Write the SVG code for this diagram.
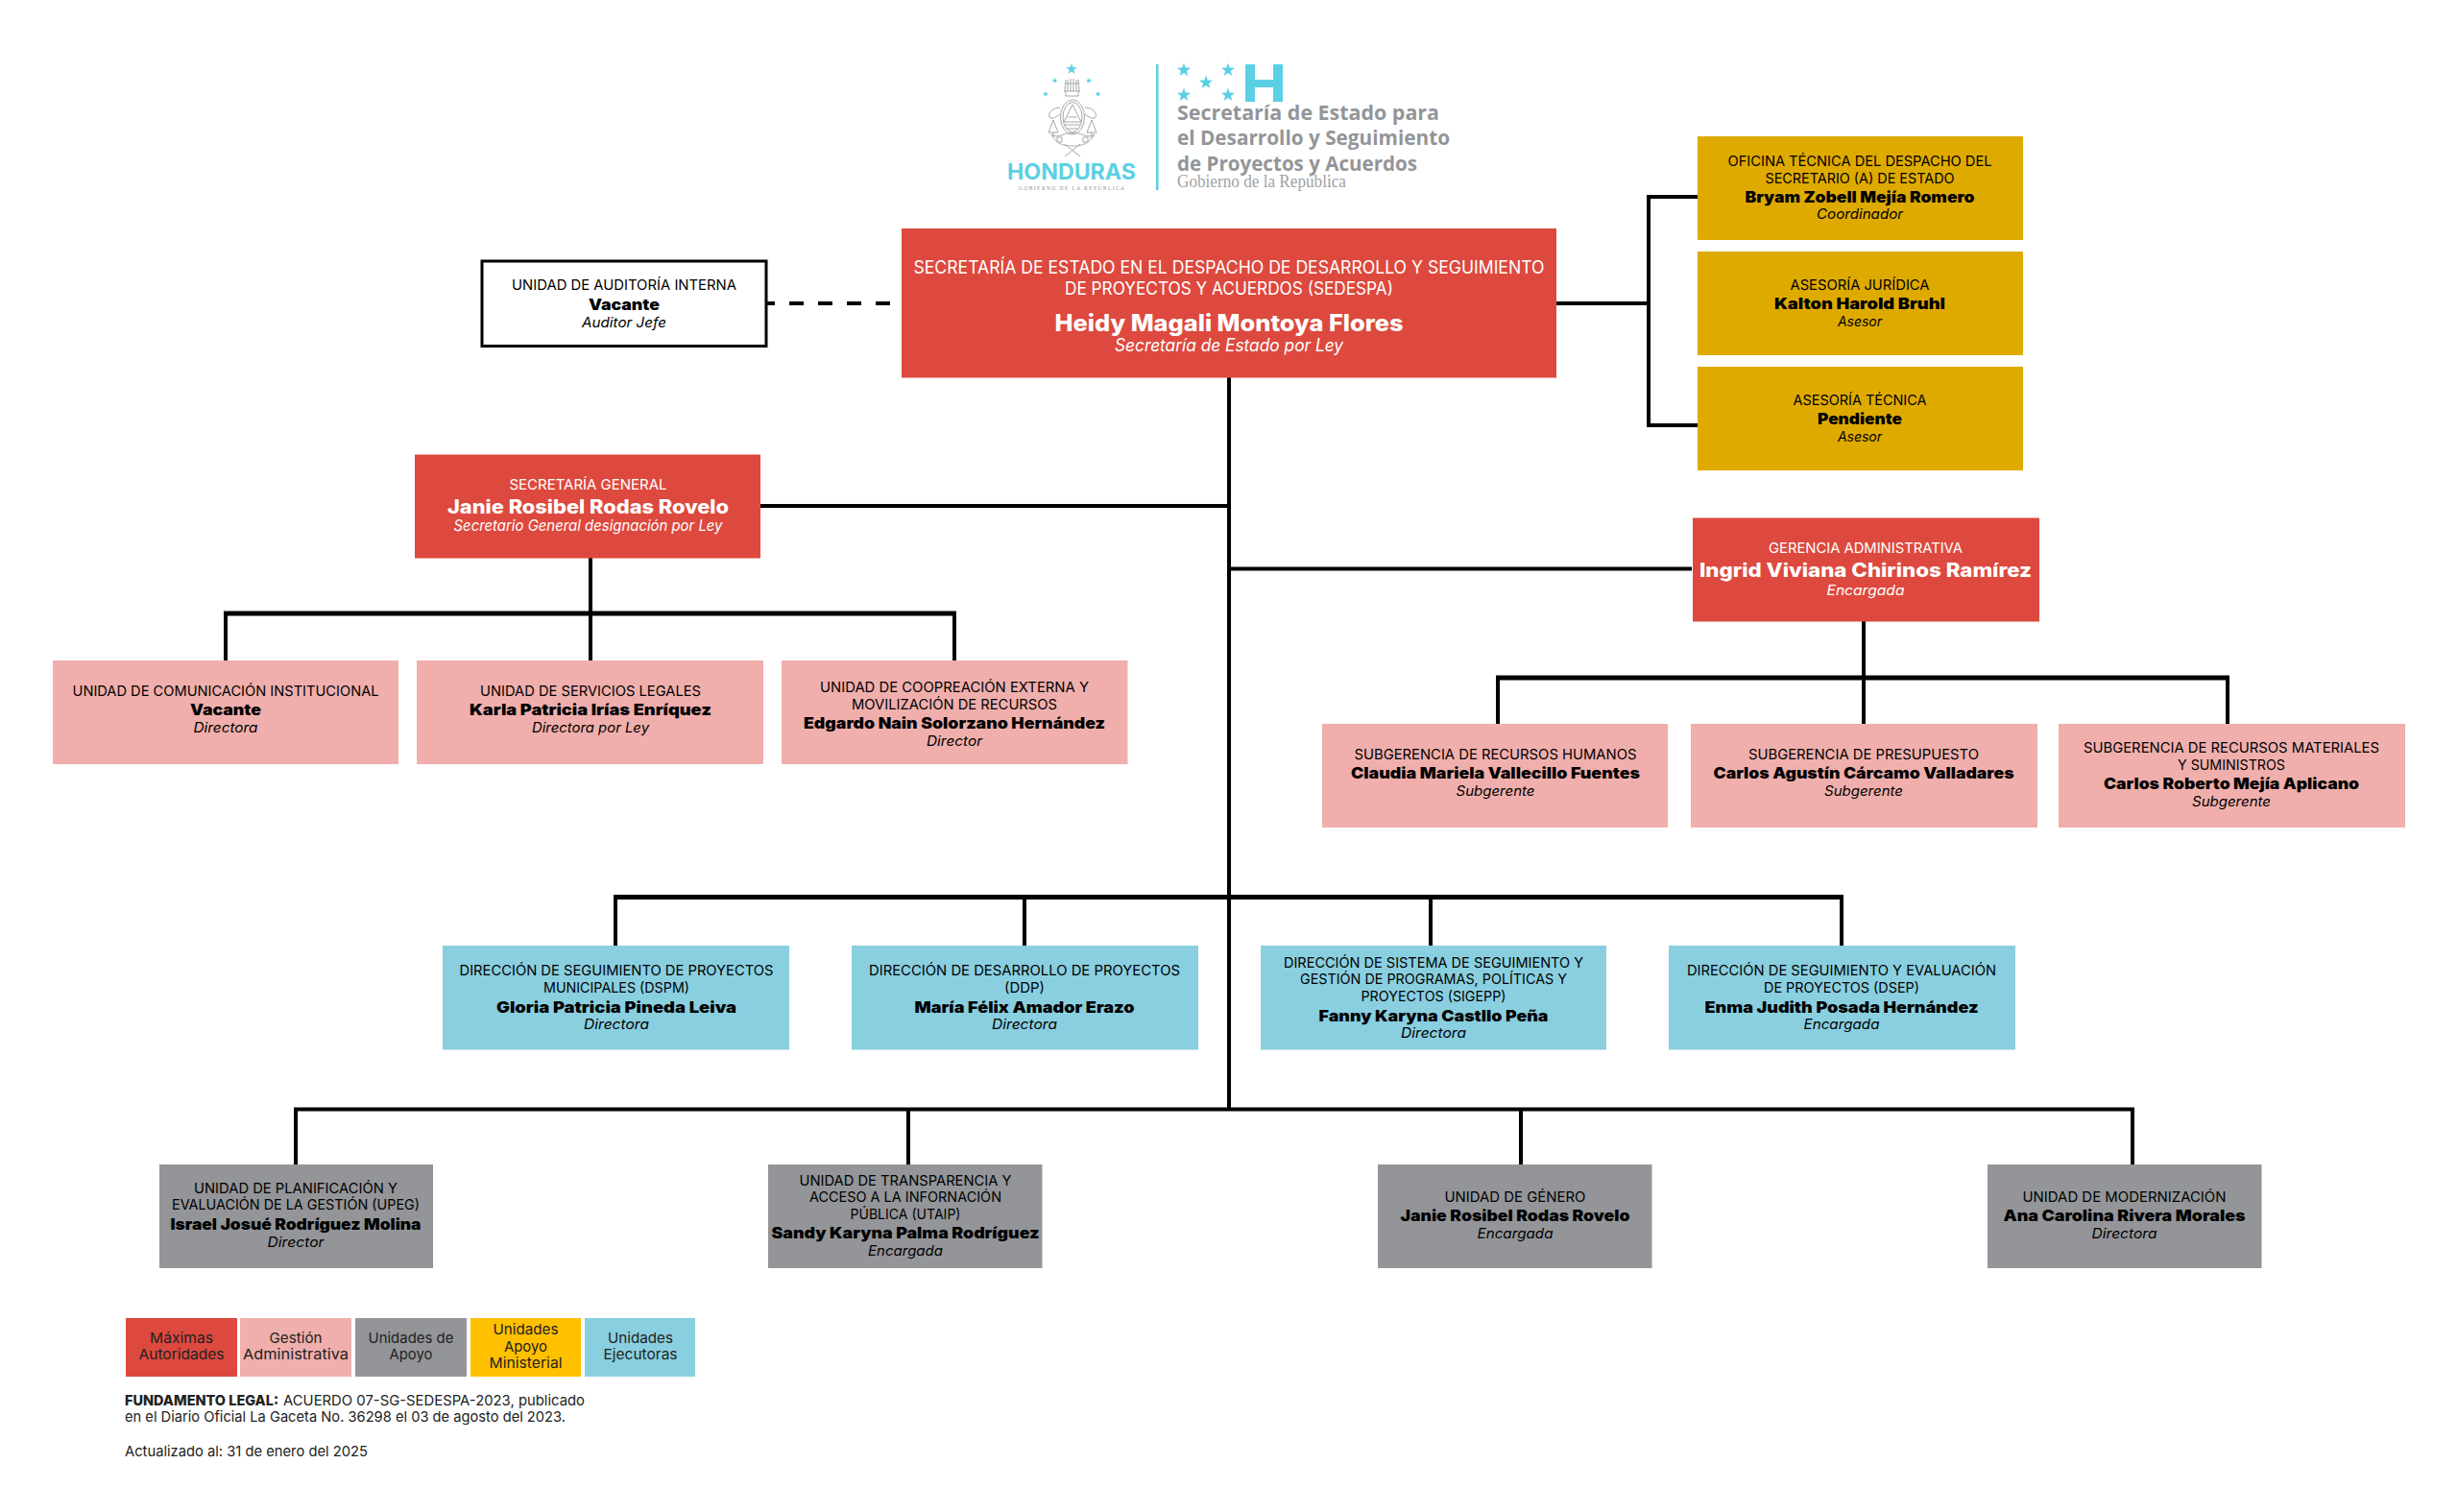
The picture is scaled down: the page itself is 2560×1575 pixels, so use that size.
<svg xmlns="http://www.w3.org/2000/svg" width="2560" height="1575" viewBox="0 0 2560 1575">
<style>
text{font-family:Inter,"Liberation Sans",sans-serif;text-anchor:middle;fill:#000;transform:translateY(1.3px)}
.l{font-size:14.5px}
.n{font-size:16px;font-weight:900;fill:#000}
.r{font-size:14.5px;font-style:italic}
text.w{fill:#fff}
.lb{font-size:18px}.nb{font-size:24px;font-weight:800}.rb{font-size:18px;font-style:italic}
.n2{font-size:20px;font-weight:800}.r2{font-size:15.5px;font-style:italic}.l2{font-size:14.5px}
.red{fill:#dd493e}.pink{fill:#f0afac}.gray{fill:#939598}.gold{fill:#dfaa00}.blue{fill:#89cfe0}.yel{fill:#ffc000}
.leg{font-size:15px;fill:#222}
.ft{font-size:15px;text-anchor:start;fill:#222}
.lo{font-family:"Open Sans","Liberation Sans",sans-serif;font-size:21.5px;font-weight:700;fill:#939598;text-anchor:start}
.cn{stroke:#000;stroke-width:4;fill:none}
.cb{stroke:#000;stroke-width:5;fill:none}
.star{fill:#5bd0e5}
.crest{fill:none;stroke:#a5a7aa;stroke-width:1}
</style>
<defs>
<polygon id="st" points="0,-1 .235,-.324 .951,-.309 .38,.124 .588,.809 0,.4 -.588,.809 -.38,.124 -.951,-.309 -.235,-.324"/>
</defs>
<rect width="2560" height="1575" fill="#fff"/>
<g id="logo">
<g class="star">
<use href="#st" transform="translate(1116 72) scale(6)"/>
<use href="#st" transform="translate(1098.6 84) scale(3.2)"/>
<use href="#st" transform="translate(1134 84) scale(3.2)"/>
<use href="#st" transform="translate(1089 98) scale(3.2)"/>
<use href="#st" transform="translate(1143.6 98) scale(3.2)"/>
<use href="#st" transform="translate(1233 73) scale(7.5)"/>
<use href="#st" transform="translate(1279 73) scale(7.5)"/>
<use href="#st" transform="translate(1256 86) scale(7.5)"/>
<use href="#st" transform="translate(1233 99) scale(7.5)"/>
<use href="#st" transform="translate(1279 99) scale(7.5)"/>
</g>
<g class="crest">
<path d="M1109 95 1110 83M1112 95V83M1115 95V82M1118 95V82M1121 95V83M1124 95 1123 83M1109 87H1124M1108 95H1125M1110 95V100H1123V95"/>
<ellipse cx="1117" cy="122" rx="12.5" ry="18"/>
<ellipse cx="1117" cy="122" rx="10" ry="15.5"/>
<path d="M1117 109 1108 127H1126ZM1109 130H1125M1111 134H1123M1112 122H1122"/>
<path d="M1104 112C1096 112 1091 118 1093 122 1095 125 1100 122 1104 119M1130 112C1138 112 1143 118 1141 122 1139 125 1134 122 1130 119"/>
<path d="M1097 125 1092 138H1102ZM1137 125 1142 138H1132ZM1097 138V143M1137 138V143"/>
<path d="M1095 140C1101 152 1111 152 1117 152 1123 152 1133 152 1140 140 1133 146 1124 136 1117 139 1110 136 1102 146 1095 140Z"/>
<path d="M1109 150 1125 163M1125 150 1109 163M1101 143h5v5h-5zM1128 143h5v5h-5z"/>
</g>
<text x="1116" y="186" textLength="134" lengthAdjust="spacingAndGlyphs" style="font-size:22.5px;font-weight:700;fill:#5bd0e5">HONDURAS</text>
<text x="1116" y="197" textLength="110" lengthAdjust="spacing" style="font-family:'Liberation Serif',serif;font-size:5.5px;fill:#939598">GOBIERNO DE LA REPÚBLICA</text>
<rect x="1204" y="67" width="2.5" height="131" fill="#5bd0e5"/>
<path d="M1297 67h10v16h19V67h10v39h-10V91h-19v15h-10z" fill="#5bd0e5"/>
<text class="lo" x="1226" y="124" textLength="273" lengthAdjust="spacingAndGlyphs">Secretaría de Estado para</text>
<text class="lo" x="1226" y="150" textLength="284" lengthAdjust="spacingAndGlyphs">el Desarrollo y Seguimiento</text>
<text class="lo" x="1226" y="177" textLength="250" lengthAdjust="spacingAndGlyphs">de Proyectos y Acuerdos</text>
<text x="1226" y="194" textLength="176" lengthAdjust="spacingAndGlyphs" style="font-family:'Liberation Serif',serif;font-size:18px;fill:#a0a2a5;text-anchor:start">Gobierno de la República</text>
</g>
<g id="connectors">
<path class="cn" d="M1280 393V1155"/>
<path class="cn" d="M792 316H927" stroke-dasharray="15 15"/>
<path class="cn" d="M1620 316H1717M1768 205H1717V443H1768"/>
<path class="cn" d="M792 527H1280"/>
<path class="cn" d="M615 580V688M235 688V639M994 688V639"/>
<path class="cb" d="M233 639H996"/>
<path class="cn" d="M1280 592.500H1762"/>
<path class="cn" d="M1941 647V754M1560 754V706M2320 754V706"/>
<path class="cb" d="M1558 706H2322"/>
<path class="cb" d="M639 934.500H1920"/>
<path class="cn" d="M641 934V985M1067 934V985M1490 934V985M1918 934V985"/>
<path class="cn" d="M306 1155.500H2223M308 1154V1213M946 1155V1213M1584 1155V1213M2221 1154V1213"/>
</g>
<g id="n-secretaria">
<rect class="red" x="939" y="238" width="682" height="155.500"/>
<text class="lb w" x="1280" y="284" textLength="657" lengthAdjust="spacingAndGlyphs">SECRETARÍA DE ESTADO EN EL DESPACHO DE DESARROLLO Y SEGUIMIENTO</text>
<text class="lb w" x="1280" y="306" textLength="342" lengthAdjust="spacingAndGlyphs">DE PROYECTOS Y ACUERDOS (SEDESPA)</text>
<text class="nb w" x="1280" y="344" textLength="363" lengthAdjust="spacingAndGlyphs">Heidy Magali Montoya Flores</text>
<text class="rb w" x="1280" y="365" textLength="238" lengthAdjust="spacingAndGlyphs">Secretaría de Estado por Ley</text>
</g>
<g id="n-auditoria">
<rect x="502" y="272" width="296" height="88.500" fill="#fff" stroke="#000" stroke-width="3"/>
<text class="l" x="650" y="301" textLength="234" lengthAdjust="spacingAndGlyphs">UNIDAD DE AUDITORÍA INTERNA</text>
<text class="n" x="650" y="322" textLength="74" lengthAdjust="spacingAndGlyphs">Vacante</text>
<text class="r" x="650" y="340" textLength="88" lengthAdjust="spacingAndGlyphs">Auditor Jefe</text>
</g>
<g id="n-oficina">
<rect class="gold" x="1768" y="142" width="339" height="108"/>
<text class="l" x="1937" y="172" textLength="275" lengthAdjust="spacingAndGlyphs">OFICINA TÉCNICA DEL DESPACHO DEL</text>
<text class="l" x="1937" y="190" textLength="197" lengthAdjust="spacingAndGlyphs">SECRETARIO (A) DE ESTADO</text>
<text class="n" x="1937" y="210" textLength="239" lengthAdjust="spacingAndGlyphs">Bryam Zobell Mejía Romero</text>
<text class="r" x="1937" y="227" textLength="90" lengthAdjust="spacingAndGlyphs">Coordinador</text>
</g>
<g id="n-juridica">
<rect class="gold" x="1768" y="262" width="339" height="108"/>
<text class="l" x="1937" y="301" textLength="145" lengthAdjust="spacingAndGlyphs">ASESORÍA JURÍDICA</text>
<text class="n" x="1937" y="321" textLength="178" lengthAdjust="spacingAndGlyphs">Kalton Harold Bruhl</text>
<text class="r" x="1937" y="339" textLength="46" lengthAdjust="spacingAndGlyphs">Asesor</text>
</g>
<g id="n-tecnica">
<rect class="gold" x="1768" y="382" width="339" height="108"/>
<text class="l" x="1937" y="421" textLength="139" lengthAdjust="spacingAndGlyphs">ASESORÍA TÉCNICA</text>
<text class="n" x="1937" y="441" textLength="88" lengthAdjust="spacingAndGlyphs">Pendiente</text>
<text class="r" x="1937" y="459" textLength="46" lengthAdjust="spacingAndGlyphs">Asesor</text>
</g>
<g id="n-secgeneral">
<rect class="red" x="432" y="473.500" width="360" height="108"/>
<text class="l2 w" x="612.5" y="509" textLength="164" lengthAdjust="spacingAndGlyphs">SECRETARÍA GENERAL</text>
<text class="n2 w" x="612.5" y="534" textLength="293" lengthAdjust="spacingAndGlyphs">Janie Rosibel Rodas Rovelo</text>
<text class="r2 w" x="612.5" y="552" textLength="280" lengthAdjust="spacingAndGlyphs">Secretario General designación por Ley</text>
</g>
<g id="n-comunicacion">
<rect class="pink" x="55" y="688" width="360" height="108"/>
<text class="l" x="235" y="724" textLength="319" lengthAdjust="spacingAndGlyphs">UNIDAD DE COMUNICACIÓN INSTITUCIONAL</text>
<text class="n" x="235" y="744" textLength="74" lengthAdjust="spacingAndGlyphs">Vacante</text>
<text class="r" x="235" y="762" textLength="67" lengthAdjust="spacingAndGlyphs">Directora</text>
</g>
<g id="n-legales">
<rect class="pink" x="434" y="688" width="361" height="108"/>
<text class="l" x="615" y="724" textLength="230" lengthAdjust="spacingAndGlyphs">UNIDAD DE SERVICIOS LEGALES</text>
<text class="n" x="615" y="744" textLength="252" lengthAdjust="spacingAndGlyphs">Karla Patricia Irías Enríquez</text>
<text class="r" x="615" y="762" textLength="122" lengthAdjust="spacingAndGlyphs">Directora por Ley</text>
</g>
<g id="n-cooperacion">
<rect class="pink" x="814" y="688" width="360.500" height="108"/>
<text class="l" x="994" y="720" textLength="280" lengthAdjust="spacingAndGlyphs">UNIDAD DE COOPREACIÓN EXTERNA Y</text>
<text class="l" x="994" y="738" textLength="214" lengthAdjust="spacingAndGlyphs">MOVILIZACIÓN DE RECURSOS</text>
<text class="n" x="994" y="758" textLength="314" lengthAdjust="spacingAndGlyphs">Edgardo Nain Solorzano Hernández</text>
<text class="r" x="994" y="776" textLength="58" lengthAdjust="spacingAndGlyphs">Director</text>
</g>
<g id="n-gerencia">
<rect class="red" x="1763" y="539.500" width="361" height="108"/>
<text class="l2 w" x="1943" y="575" textLength="202" lengthAdjust="spacingAndGlyphs">GERENCIA ADMINISTRATIVA</text>
<text class="n2 w" x="1943" y="600" textLength="346" lengthAdjust="spacingAndGlyphs">Ingrid Viviana Chirinos Ramírez</text>
<text class="r w" x="1943" y="619" textLength="81" lengthAdjust="spacingAndGlyphs">Encargada</text>
</g>
<g id="n-rrhh">
<rect class="pink" x="1377" y="754" width="360" height="108"/>
<text class="l" x="1557.5" y="790" textLength="294" lengthAdjust="spacingAndGlyphs">SUBGERENCIA DE RECURSOS HUMANOS</text>
<text class="n" x="1557.5" y="810" textLength="301" lengthAdjust="spacingAndGlyphs">Claudia Mariela Vallecillo Fuentes</text>
<text class="r" x="1557.5" y="828" textLength="82" lengthAdjust="spacingAndGlyphs">Subgerente</text>
</g>
<g id="n-presupuesto">
<rect class="pink" x="1761" y="754" width="361" height="108"/>
<text class="l" x="1941" y="790" textLength="240" lengthAdjust="spacingAndGlyphs">SUBGERENCIA DE PRESUPUESTO</text>
<text class="n" x="1941" y="810" textLength="313" lengthAdjust="spacingAndGlyphs">Carlos Agustín Cárcamo Valladares</text>
<text class="r" x="1941" y="828" textLength="82" lengthAdjust="spacingAndGlyphs">Subgerente</text>
</g>
<g id="n-materiales">
<rect class="pink" x="2144" y="754" width="361" height="108"/>
<text class="l" x="2324" y="783" textLength="308" lengthAdjust="spacingAndGlyphs">SUBGERENCIA DE RECURSOS MATERIALES</text>
<text class="l" x="2324" y="801" textLength="112" lengthAdjust="spacingAndGlyphs">Y SUMINISTROS</text>
<text class="n" x="2324" y="821" textLength="266" lengthAdjust="spacingAndGlyphs">Carlos Roberto Mejía Aplicano</text>
<text class="r" x="2324" y="839" textLength="82" lengthAdjust="spacingAndGlyphs">Subgerente</text>
</g>
<g id="n-dspm">
<rect class="blue" x="461" y="985" width="361" height="108.500"/>
<text class="l" x="642" y="1014.500" textLength="327" lengthAdjust="spacingAndGlyphs">DIRECCIÓN DE SEGUIMIENTO DE PROYECTOS</text>
<text class="l" x="642" y="1032.500" textLength="152" lengthAdjust="spacingAndGlyphs">MUNICIPALES (DSPM)</text>
<text class="n" x="642" y="1053.500" textLength="250" lengthAdjust="spacingAndGlyphs">Gloria Patricia Pineda Leiva</text>
<text class="r" x="642" y="1070.500" textLength="68" lengthAdjust="spacingAndGlyphs">Directora</text>
</g>
<g id="n-ddp">
<rect class="blue" x="887" y="985" width="361" height="108.500"/>
<text class="l" x="1067" y="1014.500" textLength="324" lengthAdjust="spacingAndGlyphs">DIRECCIÓN DE DESARROLLO DE PROYECTOS</text>
<text class="l" x="1067" y="1032.500" textLength="42" lengthAdjust="spacingAndGlyphs">(DDP)</text>
<text class="n" x="1067" y="1053.500" textLength="229" lengthAdjust="spacingAndGlyphs">María Félix Amador Erazo</text>
<text class="r" x="1067" y="1070.500" textLength="68" lengthAdjust="spacingAndGlyphs">Directora</text>
</g>
<g id="n-sigepp">
<rect class="blue" x="1313" y="985" width="360" height="108.500"/>
<text class="l" x="1493" y="1006.500" textLength="312" lengthAdjust="spacingAndGlyphs">DIRECCIÓN DE SISTEMA DE SEGUIMIENTO Y</text>
<text class="l" x="1493" y="1023.500" textLength="278" lengthAdjust="spacingAndGlyphs">GESTIÓN DE PROGRAMAS, POLÍTICAS Y</text>
<text class="l" x="1493" y="1041.500" textLength="151" lengthAdjust="spacingAndGlyphs">PROYECTOS (SIGEPP)</text>
<text class="n" x="1493" y="1062.500" textLength="239" lengthAdjust="spacingAndGlyphs">Fanny Karyna Castllo Peña</text>
<text class="r" x="1493" y="1079.500" textLength="68" lengthAdjust="spacingAndGlyphs">Directora</text>
</g>
<g id="n-dsep">
<rect class="blue" x="1738" y="985" width="361" height="108.500"/>
<text class="l" x="1918" y="1014.500" textLength="322" lengthAdjust="spacingAndGlyphs">DIRECCIÓN DE SEGUIMIENTO Y EVALUACIÓN</text>
<text class="l" x="1918" y="1032.500" textLength="162" lengthAdjust="spacingAndGlyphs">DE PROYECTOS (DSEP)</text>
<text class="n" x="1918" y="1053.500" textLength="285" lengthAdjust="spacingAndGlyphs">Enma Judith Posada Hernández</text>
<text class="r" x="1918" y="1070.500" textLength="79" lengthAdjust="spacingAndGlyphs">Encargada</text>
</g>
<g id="n-upeg">
<rect class="gray" x="166" y="1213" width="285" height="108"/>
<text class="l" x="308" y="1242" textLength="212" lengthAdjust="spacingAndGlyphs">UNIDAD DE PLANIFICACIÓN Y</text>
<text class="l" x="308" y="1259" textLength="258" lengthAdjust="spacingAndGlyphs">EVALUACIÓN DE LA GESTIÓN (UPEG)</text>
<text class="n" x="308" y="1280" textLength="261" lengthAdjust="spacingAndGlyphs">Israel Josué Rodríguez Molina</text>
<text class="r" x="308" y="1298" textLength="59" lengthAdjust="spacingAndGlyphs">Director</text>
</g>
<g id="n-utaip">
<rect class="gray" x="800" y="1213" width="285.500" height="108"/>
<text class="l" x="943" y="1233.500" textLength="221" lengthAdjust="spacingAndGlyphs">UNIDAD DE TRANSPARENCIA Y</text>
<text class="l" x="943" y="1251" textLength="200" lengthAdjust="spacingAndGlyphs">ACCESO A LA INFORNACIÓN</text>
<text class="l" x="943" y="1269" textLength="115" lengthAdjust="spacingAndGlyphs">PÚBLICA (UTAIP)</text>
<text class="n" x="943" y="1289" textLength="279" lengthAdjust="spacingAndGlyphs">Sandy Karyna Palma Rodríguez</text>
<text class="r" x="943" y="1307" textLength="78" lengthAdjust="spacingAndGlyphs">Encargada</text>
</g>
<g id="n-genero">
<rect class="gray" x="1435" y="1213" width="285.500" height="108"/>
<text class="l" x="1578" y="1251" textLength="147" lengthAdjust="spacingAndGlyphs">UNIDAD DE GÉNERO</text>
<text class="n" x="1578" y="1271" textLength="239" lengthAdjust="spacingAndGlyphs">Janie Rosibel Rodas Rovelo</text>
<text class="r" x="1578" y="1289" textLength="79" lengthAdjust="spacingAndGlyphs">Encargada</text>
</g>
<g id="n-modernizacion">
<rect class="gray" x="2070" y="1213" width="285.500" height="108"/>
<text class="l" x="2212.5" y="1251" textLength="212" lengthAdjust="spacingAndGlyphs">UNIDAD DE MODERNIZACIÓN</text>
<text class="n" x="2212.5" y="1271" textLength="252" lengthAdjust="spacingAndGlyphs">Ana Carolina Rivera Morales</text>
<text class="r" x="2212.5" y="1289" textLength="68" lengthAdjust="spacingAndGlyphs">Directora</text>
</g>
<g id="legend">
<rect class="red" x="131" y="1373" width="116" height="61"/>
<text class="leg" x="189" y="1398" textLength="66" lengthAdjust="spacingAndGlyphs">Máximas</text>
<text class="leg" x="189" y="1415" textLength="89" lengthAdjust="spacingAndGlyphs">Autoridades</text>
<rect class="pink" x="250" y="1373" width="116" height="61"/>
<text class="leg" x="308" y="1398" textLength="55" lengthAdjust="spacingAndGlyphs">Gestión</text>
<text class="leg" x="308" y="1415" textLength="110" lengthAdjust="spacingAndGlyphs">Administrativa</text>
<rect class="gray" x="370" y="1373" width="116" height="61"/>
<text class="leg" x="428" y="1398" textLength="89" lengthAdjust="spacingAndGlyphs">Unidades de</text>
<text class="leg" x="428" y="1415" textLength="45" lengthAdjust="spacingAndGlyphs">Apoyo</text>
<rect class="yel" x="490" y="1373" width="115" height="61"/>
<text class="leg" x="547.5" y="1389" textLength="68" lengthAdjust="spacingAndGlyphs">Unidades</text>
<text class="leg" x="547.5" y="1407" textLength="45" lengthAdjust="spacingAndGlyphs">Apoyo</text>
<text class="leg" x="547.5" y="1424" textLength="76" lengthAdjust="spacingAndGlyphs">Ministerial</text>
<rect class="blue" x="609" y="1373" width="115" height="61"/>
<text class="leg" x="667" y="1398" textLength="68" lengthAdjust="spacingAndGlyphs">Unidades</text>
<text class="leg" x="667" y="1415" textLength="77" lengthAdjust="spacingAndGlyphs">Ejecutoras</text>
</g>
<g id="footer">
<text class="ft" x="130" y="1463" textLength="160" lengthAdjust="spacingAndGlyphs" style="font-weight:800">FUNDAMENTO LEGAL:</text>
<text class="ft" x="295" y="1463" textLength="314" lengthAdjust="spacingAndGlyphs">ACUERDO 07-SG-SEDESPA-2023, publicado</text>
<text class="ft" x="130" y="1480" textLength="459" lengthAdjust="spacingAndGlyphs">en el Diario Oficial La Gaceta No. 36298 el 03 de agosto del 2023.</text>
<text class="ft" x="130" y="1516" textLength="253" lengthAdjust="spacingAndGlyphs">Actualizado al: 31 de enero del 2025</text>
</g>
</svg>
